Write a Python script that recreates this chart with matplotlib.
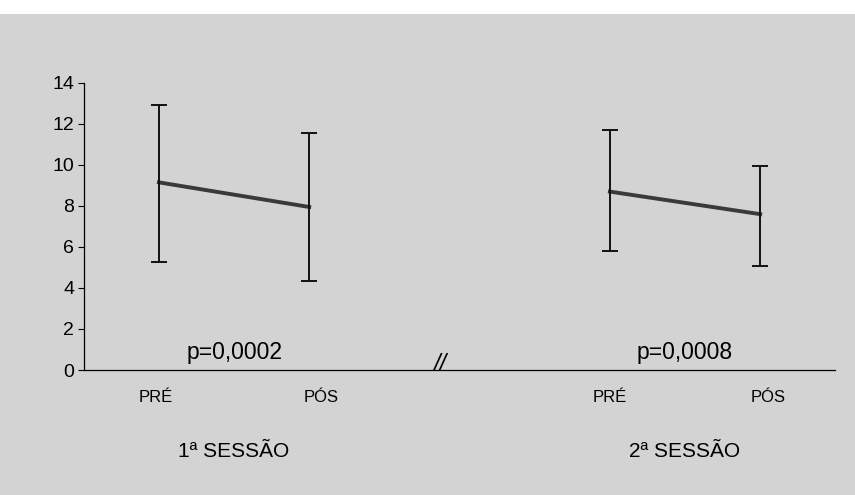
import matplotlib.pyplot as plt
from matplotlib.patches import Rectangle

plt.rcParams["font.family"] = ["Liberation Sans", "DejaVu Sans"]

# dados
posicoes = [0, 1, 3, 4]
rotulos = ["PRÉ", "PÓS", "PRÉ", "PÓS"]
medias = [9.15, 7.95, 8.7, 7.6]
topo = [12.93, 11.56, 11.7, 9.95]
base = [5.27, 4.34, 5.8, 5.05]
valores_p = ["p=0,0002", "p=0,0008"]
sessoes = ["1ª SESSÃO", "2ª SESSÃO"]

FUNDO = "#d3d3d3"

fig = plt.figure(figsize=(8.55, 4.95), dpi=100, facecolor=FUNDO)
fig.patches.append(Rectangle((0, 0.972), 1, 0.03, transform=fig.transFigure,
                             facecolor="white", edgecolor="none", zorder=0))
ax = fig.add_axes([0.098, 0.2525, 0.879, 0.58])
ax.set_facecolor("none")

err_inf = [m - b for m, b in zip(medias, base)]
err_sup = [t - m for t, m in zip(topo, medias)]

for i in (0, 2):
    sl = slice(i, i + 2)
    ax.plot(posicoes[sl], medias[sl], color="#3a3a3a", lw=2.8, zorder=2)
    ax.errorbar(posicoes[sl], medias[sl],
                yerr=[err_inf[sl], err_sup[sl]],
                fmt="none", ecolor="#111111", elinewidth=1.4,
                capsize=5.5, capthick=1.4, zorder=3)

ax.set_xlim(-0.5, 4.5)
ax.set_ylim(0, 14)
ax.set_yticks(range(0, 15, 2))
ax.tick_params(axis="y", labelsize=14, length=4, width=0.8, direction="out", pad=3)
ax.set_xticks([])

for lado in ("top", "right"):
    ax.spines[lado].set_visible(False)
ax.spines["left"].set_linewidth(0.9)
ax.spines["bottom"].set_linewidth(0.9)

# rótulos das categorias
desloc = [-0.02, 0.08, 0.0, 0.05]
for x, r, d in zip(posicoes, rotulos, desloc):
    ax.text(x + d, -1.35, r, ha="center", va="center", fontsize=12)

# valores de p e sessões
centros = [0.5, 3.5]
for c, p, s in zip(centros, valores_p, sessoes):
    ax.text(c, 0.85, p, ha="center", va="center", fontsize=16.5)
    ax.text(c, -3.95, s, ha="center", va="center", fontsize=15)

# marca de quebra no eixo x
ax.text(1.87, 0.25, "//", ha="center", va="center", fontsize=17, style="italic")

fig.savefig("out.png", dpi=100, facecolor=FUNDO)
